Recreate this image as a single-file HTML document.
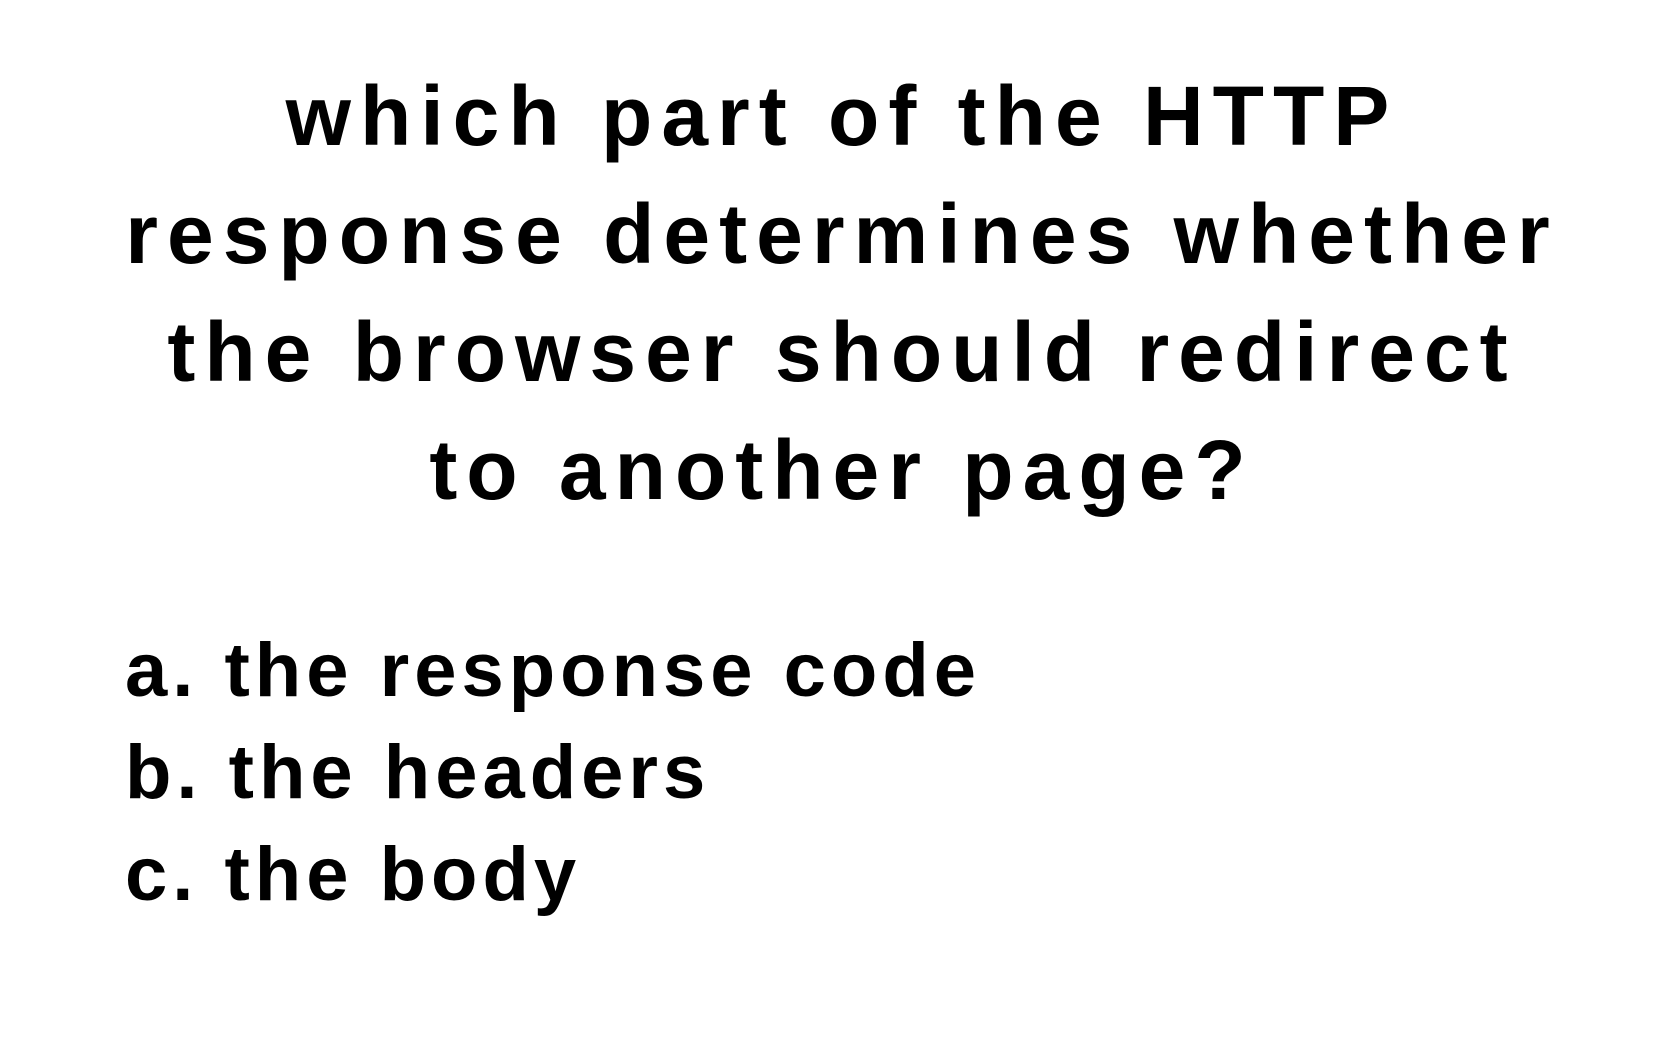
<!DOCTYPE html>
<html>
<head>
<meta charset="utf-8">
<style>
  html, body { margin:0; padding:0; background:#fff; }
  body { width:1667px; height:1042px; position:relative; overflow:hidden;
         font-family:"Liberation Sans", "DejaVu Sans", sans-serif; color:#000; }
  .q { position:absolute; left:0; width:1684px; text-align:center; font-weight:bold;
       font-size:84px; letter-spacing:9px; line-height:100px; white-space:nowrap; }
  .opt { position:absolute; left:125px; font-size:76px; letter-spacing:5px; font-weight:bold;
         line-height:90px; white-space:nowrap; }
</style>
</head>
<body>
  <div class="q" style="top:66px">which part of the HTTP</div>
  <div class="q" style="top:184px">response determines whether</div>
  <div class="q" style="top:302px">the browser should redirect</div>
  <div class="q" style="top:420px">to another page?</div>
  <div class="opt" style="top:626px">a. the response code</div>
  <div class="opt" style="top:728px">b. the headers</div>
  <div class="opt" style="top:830px">c. the body</div>
</body>
</html>
